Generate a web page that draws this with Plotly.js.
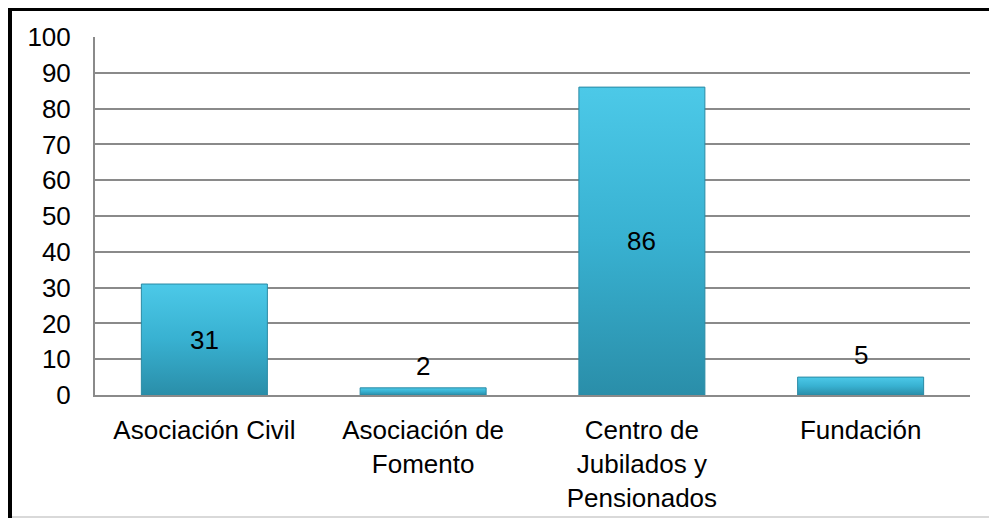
<!DOCTYPE html>
<html>
<head>
<meta charset="utf-8">
<script src="https://cdn.plot.ly/plotly-3.0.1.min.js"></script>
<style>
  html, body { margin: 0; padding: 0; background: #fff; }
  #wrap { position: relative; width: 989px; height: 518px; overflow: hidden; }
  #chart { position: absolute; left: 0; top: 0; width: 989px; height: 518px; }
  .b-top { position: absolute; left: 8px; top: 8px; width: 981px; height: 3px; background: #000; }
  .b-left { position: absolute; left: 8px; top: 8px; width: 4px; height: 510px; background: #000; }
  .b-bot { position: absolute; left: 12px; top: 516px; width: 977px; height: 2px; background: #d9d9d9; }
</style>
</head>
<body>
<div id="wrap">
  <div id="chart"></div>
  <div class="b-top"></div>
  <div class="b-left"></div>
  <div class="b-bot"></div>
</div>
<script>
const categories = ["Asociación Civil", "Asociación de<br>Fomento", "Centro de<br>Jubilados y<br>Pensionados", "Fundación"];
const values = [31, 2, 86, 5];
const yTicks = [0, 10, 20, 30, 40, 50, 60, 70, 80, 90, 100];

const FONT = "Liberation Sans, Arial, sans-serif";
const FS = 26;
const GRID = "#8a8a8a";

const trace = {
  type: "bar",
  x: categories,
  y: values,
  marker: { color: "#37acca", line: { color: "#2a8aa4", width: 1 } },
  textposition: "none",
  hoverinfo: "none"
};

const annotations = values.map((v, i) => v >= 10
  ? { x: categories[i], y: v / 2, text: String(v), showarrow: false, yanchor: "middle",
      font: { family: FONT, size: FS, color: "#000" } }
  : { x: categories[i], y: v, text: String(v), showarrow: false, yanchor: "bottom", yshift: 5,
      font: { family: FONT, size: FS, color: "#000" } });

const layout = {
  width: 989, height: 518,
  margin: { l: 95, r: 19, t: 37, b: 123, pad: 0 },
  paper_bgcolor: "rgba(0,0,0,0)",
  plot_bgcolor: "#fff",
  bargap: 0.424,
  showlegend: false,
  font: { family: FONT, size: FS, color: "#000" },
  xaxis: {
    type: "category",
    showgrid: false,
    showline: true, linecolor: GRID, linewidth: 2,
    ticks: "", ticklabelstandoff: 11,
    tickfont: { family: FONT, size: FS, color: "#000" },
    fixedrange: true
  },
  yaxis: {
    range: [0, 100],
    tickvals: yTicks,
    ticktext: yTicks.map(String),
    showgrid: true, gridcolor: GRID, gridwidth: 2,
    zeroline: false,
    showline: true, linecolor: GRID, linewidth: 2,
    ticks: "", ticklabelstandoff: 17,
    tickfont: { family: FONT, size: FS, color: "#000" },
    fixedrange: true
  },
  annotations: annotations
};

Plotly.newPlot("chart", [trace], layout, { displayModeBar: false, staticPlot: true }).then(gd => {
  const svg = gd.querySelector(".main-svg");
  const ns = "http://www.w3.org/2000/svg";
  let defs = svg.querySelector("defs");
  if (!defs) { defs = document.createElementNS(ns, "defs"); svg.insertBefore(defs, svg.firstChild); }
  const grad = document.createElementNS(ns, "linearGradient");
  grad.setAttribute("id", "barGrad");
  grad.setAttribute("x1", "0"); grad.setAttribute("y1", "0");
  grad.setAttribute("x2", "0"); grad.setAttribute("y2", "1");
  [["0", "#4cc9e8"], ["0.5", "#38b1d1"], ["1", "#2a8ea9"]].forEach(([o, c]) => {
    const s = document.createElementNS(ns, "stop");
    s.setAttribute("offset", o); s.setAttribute("stop-color", c);
    grad.appendChild(s);
  });
  defs.appendChild(grad);
  gd.querySelectorAll(".barlayer .point path").forEach(p => { p.style.fill = "url(#barGrad)"; });
});
</script>
</body>
</html>
